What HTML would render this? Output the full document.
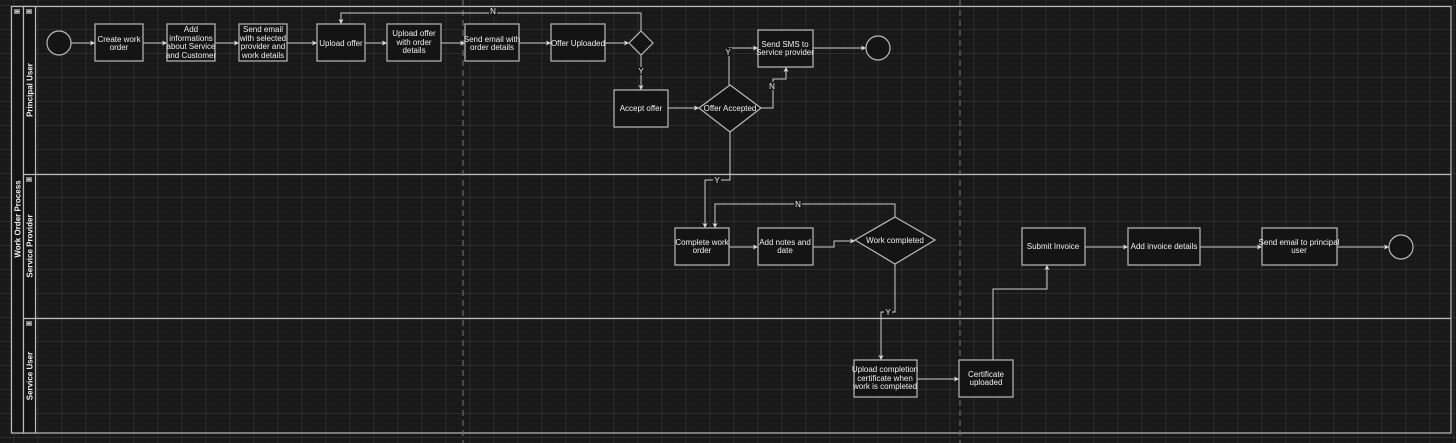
<!DOCTYPE html>
<html><head><meta charset="utf-8"><style>
html,body{margin:0;padding:0;background:#181818;}
svg{display:block;}
text{font-family:"Liberation Sans",Arial,sans-serif;fill:#f0f0f0;font-size:8px;}
</style></head><body>
<svg width="1456" height="443" viewBox="0 0 1456 443" xmlns="http://www.w3.org/2000/svg">
<defs>
<pattern id="minor" x="13.7" y="5.3" width="4.8" height="4.8" patternUnits="userSpaceOnUse">
<path d="M0 0H4.8M0 0V4.8" stroke="#242424" stroke-width="0.6" fill="none"/></pattern>
<pattern id="major" x="13.7" y="5.3" width="24" height="24" patternUnits="userSpaceOnUse">
<path d="M0 0H24M0 0V24" stroke="#444" stroke-width="0.8" fill="none"/></pattern>
<marker id="a" markerWidth="6" markerHeight="6" refX="5" refY="3" orient="auto" markerUnits="userSpaceOnUse">
<path d="M0 0.5L5 3L0 5.5L1.2 3Z" fill="#ddd"/></marker>
</defs>
<rect width="1456" height="443" fill="#181818"/>
<rect width="1456" height="443" fill="url(#minor)"/>
<rect width="1456" height="443" fill="url(#major)"/>

<g stroke="#bbb" stroke-width="1.2" fill="none">
<rect x="11.5" y="6.5" width="1439.5" height="426.5" />
<rect x="11.5" y="6.5" width="12" height="426.5" fill="#141414"/>
<rect x="23.5" y="6.5" width="12" height="426.5" fill="#141414"/>
<line x1="23.5" y1="174.5" x2="1451" y2="174.5"/>
<line x1="23.5" y1="318.5" x2="1451" y2="318.5"/>
</g>
<g fill="#888"><rect x="14" y="9" width="6" height="5"/><rect x="26" y="9" width="6" height="5"/><rect x="26" y="177" width="6" height="5"/><rect x="26" y="321" width="6" height="5"/></g>
<g fill="#ddd"><rect x="15.5" y="11" width="3" height="1"/><rect x="27.5" y="11" width="3" height="1"/><rect x="27.5" y="179" width="3" height="1"/><rect x="27.5" y="323" width="3" height="1"/></g>
<text transform="translate(20.5,219) rotate(-90)" text-anchor="middle" font-weight="bold" font-size="7">Work Order Process</text>
<text transform="translate(32.5,90) rotate(-90)" text-anchor="middle" font-weight="bold" font-size="7">Principal User</text>
<text transform="translate(32.5,246) rotate(-90)" text-anchor="middle" font-weight="bold" font-size="7">Service Provider</text>
<text transform="translate(32.5,376) rotate(-90)" text-anchor="middle" font-weight="bold" font-size="7">Service User</text>

<g stroke="#777" stroke-width="1" stroke-dasharray="6,4">
<line x1="463" y1="0" x2="463" y2="443"/>
<line x1="960" y1="0" x2="960" y2="443"/>
</g>

<g stroke="#ccc" stroke-width="1" fill="none" marker-end="url(#a)">
<line x1="71" y1="43" x2="95" y2="43"/>
<line x1="143" y1="43" x2="167" y2="43"/>
<line x1="215" y1="43" x2="239" y2="43"/>
<line x1="287" y1="43" x2="317" y2="43"/>
<line x1="365" y1="43" x2="387" y2="43"/>
<line x1="441" y1="43" x2="465" y2="43"/>
<line x1="519" y1="43" x2="551" y2="43"/>
<line x1="605" y1="43" x2="629" y2="43"/>
<polyline points="641,31 641,13 341,13 341,24"/>
<line x1="641" y1="55" x2="641" y2="90"/>
<line x1="668" y1="108" x2="699" y2="108"/>
<polyline points="729,85 729,48 758,48"/>
<polyline points="761,108 773,108 773,79 786,79 786,67"/>
<line x1="813" y1="48" x2="866" y2="48"/>
<polyline points="730,132 730,180 705,180 705,228"/>
<polyline points="895,217 895,204 715,204 715,228"/>
<line x1="729" y1="247" x2="758" y2="247"/>
<polyline points="813,247 834,247 834,241 855,241"/>
<polyline points="895,264 895,312 881,312 881,360"/>
<line x1="917" y1="379" x2="959" y2="379"/>
<polyline points="993,360 993,289 1047,289 1047,265"/>
<line x1="1085" y1="247" x2="1128" y2="247"/>
<line x1="1200" y1="247" x2="1262" y2="247"/>
<line x1="1337" y1="247" x2="1389" y2="247"/>
</g>

<g font-size="7" text-anchor="middle">
<rect x="489" y="8" width="8" height="8" fill="#181818"/><text x="493" y="14" font-size="7">N</text>
<rect x="637" y="67" width="8" height="8" fill="#181818"/><text x="641" y="74" font-size="7">Y</text>
<rect x="724" y="48" width="8" height="8" fill="#181818"/><text x="728" y="55" font-size="7">Y</text>
<rect x="768" y="82" width="8" height="8" fill="#181818"/><text x="772" y="89" font-size="7">N</text>
<rect x="713" y="176" width="8" height="8" fill="#181818"/><text x="717" y="183" font-size="7">Y</text>
<rect x="794" y="200" width="8" height="8" fill="#181818"/><text x="798" y="207" font-size="7">N</text>
<rect x="884" y="308" width="8" height="8" fill="#181818"/><text x="888" y="315" font-size="7">Y</text>
</g>

<g stroke="#bbb" stroke-width="1.2" fill="#141414">
<circle cx="59" cy="43" r="12"/>
<circle cx="878" cy="48" r="12"/>
<circle cx="1401" cy="247" r="12"/>
<rect x="95" y="24" width="48" height="37"/>
<rect x="167" y="24" width="48" height="37"/>
<rect x="239" y="24" width="48" height="37"/>
<rect x="317" y="24" width="48" height="37"/>
<rect x="387" y="24" width="54" height="37"/>
<rect x="465" y="24" width="54" height="37"/>
<rect x="551" y="24" width="54" height="37"/>
<polygon points="641,31 653,43 641,55 629,43"/>
<rect x="614" y="90" width="54" height="37"/>
<polygon points="730,85 761,108 730,132 699,108"/>
<rect x="758" y="30" width="55" height="37"/>
<rect x="675" y="228" width="54" height="37"/>
<rect x="758" y="228" width="55" height="37"/>
<polygon points="895,217 935,240 895,264 855,240"/>
<rect x="854" y="360" width="63" height="37"/>
<rect x="959" y="360" width="54" height="37"/>
<rect x="1022" y="228" width="63" height="37"/>
<rect x="1128" y="228" width="72" height="37"/>
<rect x="1262" y="228" width="75" height="37"/>
</g>

<g text-anchor="middle">
<text x="119" y="42">Create work</text><text x="119" y="50">order</text>
<text x="191" y="32">Add</text><text x="191" y="41">informations</text><text x="191" y="49">about Service</text><text x="191" y="58">and Customer</text>
<text x="263" y="32">Send email</text><text x="263" y="41">with selected</text><text x="263" y="49">provider and</text><text x="263" y="58">work details</text>
<text x="341" y="46">Upload offer</text>
<text x="414" y="36">Upload offer</text><text x="414" y="45">with order</text><text x="414" y="53">details</text>
<text x="492" y="42">Send email with</text><text x="492" y="50">order details</text>
<text x="578" y="46">Offer Uploaded</text>
<text x="641" y="111">Accept offer</text>
<text x="730" y="111">Offer Accepted</text>
<text x="785" y="47">Send SMS to</text><text x="785" y="55">Service provider</text>
<text x="702" y="245">Complete work</text><text x="702" y="253">order</text>
<text x="785" y="245">Add notes and</text><text x="785" y="253">date</text>
<text x="895" y="243">Work completed</text>
<text x="885" y="372">Upload completion</text><text x="885" y="381">certificate when</text><text x="885" y="389">work is completed</text>
<text x="986" y="377">Certificate</text><text x="986" y="385">uploaded</text>
<text x="1053" y="249">Submit Invoice</text>
<text x="1164" y="249">Add invoice details</text>
<text x="1299" y="245">Send email to principal</text><text x="1299" y="253">user</text>
</g>
</svg>
</body></html>
